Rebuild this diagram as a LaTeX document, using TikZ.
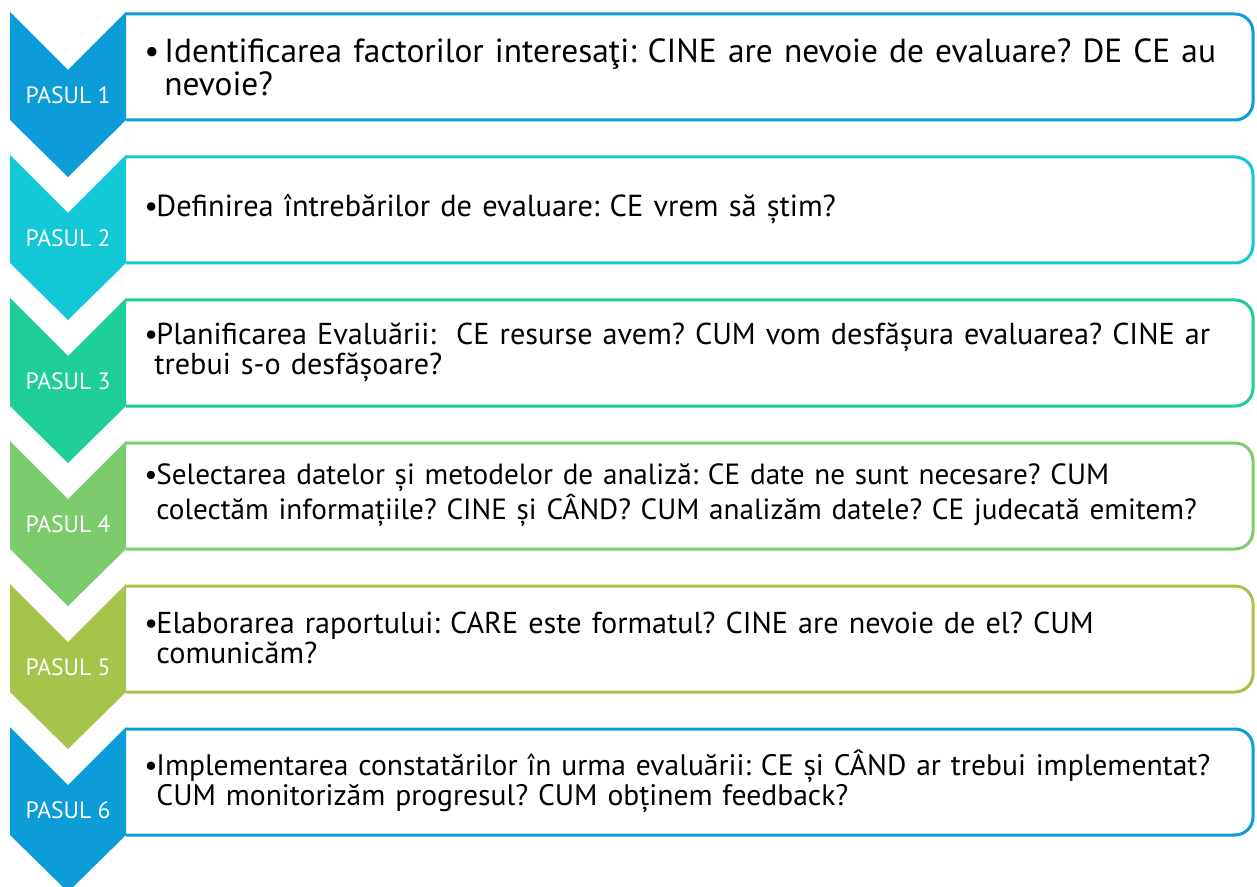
\documentclass[tikz,border=0pt]{standalone}
\usepackage{fontspec}
\setmainfont{PT Sans}
\usepackage{xcolor}
\usepackage{tikz}
\definecolor{pasblue}{HTML}{0C9CD8}
\definecolor{pascyan}{HTML}{12C8D6}
\definecolor{pasteal}{HTML}{1ECD98}
\definecolor{pasgreen}{HTML}{7CCC6E}
\definecolor{paslime}{HTML}{A6C34B}
\newcommand{\bul}[1][6pt]{\makebox[#1][l]{\textbullet}}
\frenchspacing

\begin{document}
\begin{tikzpicture}[x=0.5pt, y=-0.5pt,
  stepframe/.style={line width=1.5pt, rounded corners=9pt},
  pasul/.style={text=white, font=\fontsize{11.8}{13}\selectfont},
  txt/.style={anchor=west, inner sep=0pt, text width=620pt, align=left,
              font=\fontsize{#1}{15}\selectfont}
]
  \useasboundingbox (0,0) rectangle (1257,887);

  % chevrons with their boxes (left side of the box sits under the chevron)
  \foreach \i/\c in {1/pasblue, 2/pascyan, 3/pasteal, 4/pasgreen, 5/paslime, 6/pasblue} {
    \pgfmathsetmacro{\ytop}{12+143*(\i-1)}
    \draw[stepframe, draw=\c] (126,\ytop+108) -- (1253,\ytop+108) -- (1253,\ytop+2) -- (126,\ytop+2);
    \fill[\c] (10,\ytop) -- (68,\ytop+58) -- (126,\ytop) -- (126,\ytop+108)
              -- (68,\ytop+165) -- (10,\ytop+108) -- cycle;
    \node[pasul] (p\i) at (68,\ytop+83) {PASUL \i};
  }

  % text size shrinks a little from box to box, as the lines get longer
  \node[txt=16.7] (s1) at (144,67)  {\bul[10pt]Identificarea factorilor interesaţi: CINE are nevoie de evaluare? DE CE au\\\hspace*{10pt}nevoie?};
  \node[txt=15.2] (s2) at (144,209) {\bul Definirea întrebărilor de evaluare: CE vrem să știm?};
  \node[txt=15.1] (s3) at (144,352) {\bul Planificarea Evaluării:\ \ CE resurse avem? CUM vom desfășura evaluarea? CINE ar\\\hspace*{5pt}trebui s-o desfășoare?};
  \node[txt=14.6] (s4) at (144,495) {\bul Selectarea datelor și metodelor de analiză: CE date ne sunt necesare? CUM\\\hspace*{6pt}colectăm informațiile? CINE și CÂND? CUM analizăm datele? CE judecată emitem?};
  \node[txt=15.1] (s5) at (144,638) {\bul Elaborarea raportului: CARE este formatul? CINE are nevoie de el? CUM\\\hspace*{6pt}comunicăm?};
  \node[txt=14.8] (s6) at (144,781) {\bul Implementarea constatărilor în urma evaluării: CE și CÂND ar trebui implementat?\\\hspace*{6pt}CUM monitorizăm progresul? CUM obținem feedback?};
\end{tikzpicture}
\end{document}
